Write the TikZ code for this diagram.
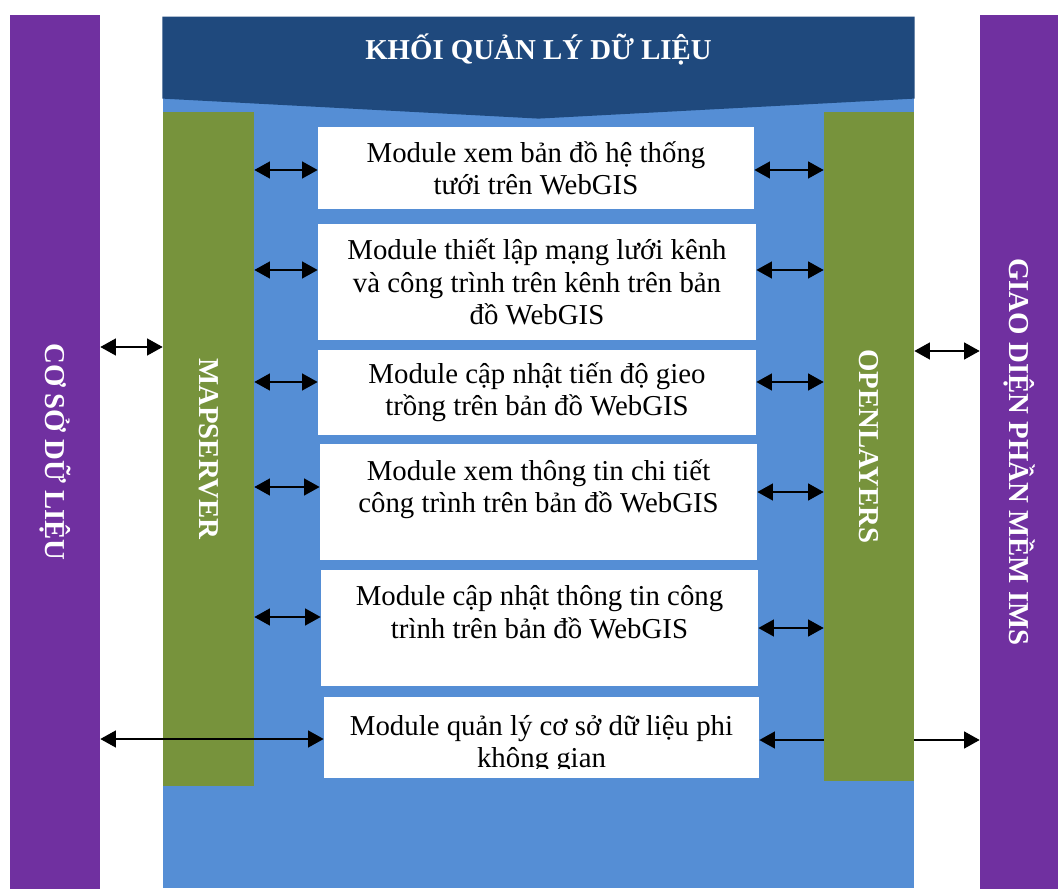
\documentclass[tikz,border=0pt]{standalone}
\usepackage{fontspec}
\setmainfont{Liberation Serif}
\usetikzlibrary{arrows.meta,calc}
\definecolor{imspurple}{HTML}{7030A0}
\definecolor{hdrblue}{HTML}{1F497D}
\definecolor{panelblue}{HTML}{558ED5}
\definecolor{barsgreen}{HTML}{77933C}
\tikzset{
  sidebar/.style={fill=imspurple, inner sep=0pt},
  greenbar/.style={fill=barsgreen, inner sep=0pt},
  modbox/.style={fill=white, inner sep=0pt, align=center, font=\fontsize{20.5}{23}\selectfont},
  modtext/.style={inner sep=0pt, align=center, font=\fontsize{20.5}{23}\selectfont},
  bartext/.style={rotate=-90, text=white, inner sep=0pt, font=\fontsize{20.5}{24}\selectfont\bfseries},
  dblarrow/.style={{Triangle[length=3.9mm,width=4.2mm]}-{Triangle[length=3.9mm,width=4.2mm]}, line width=1.4pt},
  onearrow/.style={-{Triangle[length=3.9mm,width=4.2mm]}, line width=1.4pt}
}

\begin{document}
\begin{tikzpicture}[x=0.025cm, y=-0.025cm]
\useasboundingbox[fill=white] (0,0) rectangle (1058,891);

% outer columns
\node[sidebar, minimum width=2.25cm, minimum height=21.85cm] (csdl) at (55,452) {};
\node[bartext] (csdltxt) at (csdl.center) {CƠ SỞ DỮ LIỆU};
\node[sidebar, minimum width=1.95cm, minimum height=21.85cm] (gui) at (1019,452) {};
\node[bartext] (guitxt) at (gui.center) {GIAO DIỆN PHẦN MỀM IMS};

% data management block
\node[fill=panelblue, inner sep=0pt, minimum width=18.79cm, minimum height=21.775cm] (main) at (538.5,452.5) {};
\fill[hdrblue] (main.north west) -- (main.north east) -- ($(main.north east)+(0,82)$)
  -- ($(main.north)+(0,102)$) -- ($(main.north west)+(0,82)$) -- cycle;
\node[bartext, rotate=90] (hdr) at ($(main.north)+(0,33)$) {KHỐI QUẢN LÝ DỮ LIỆU};

\node[greenbar, minimum width=2.275cm, minimum height=16.85cm] (ms) at (208.5,449) {};
\node[bartext] (mstxt) at (ms.center) {MAPSERVER};
\node[greenbar, minimum width=2.25cm, minimum height=16.725cm] (ol) at (869,446.5) {};
\node[bartext] (oltxt) at (ol.center) {OPENLAYERS};

% modules
\node[modbox, minimum width=10.9cm, minimum height=2.05cm] (m1) at (536,168) {Module xem bản đồ hệ thống\\tưới trên WebGIS};
\node[modbox, minimum width=10.95cm, minimum height=2.9cm] (m2) at (537,282) {Module thiết lập mạng lưới kênh\\và công trình trên kênh trên bản\\đồ WebGIS};
\node[modbox, minimum width=10.95cm, minimum height=2.125cm] (m3) at (537,392.5) {Module cập nhật tiến độ gieo\\trồng trên bản đồ WebGIS};
\node[modbox, minimum width=10.925cm, minimum height=2.9cm] (m4) at (538.5,502) {Module xem thông tin chi tiết\\công trình trên bản đồ WebGIS\\~};
\node[modbox, minimum width=10.925cm, minimum height=2.9cm] (m5) at (539.5,628) {Module cập nhật thông tin công\\trình trên bản đồ WebGIS\\~};
\node[modbox, minimum width=10.875cm, minimum height=2.025cm] (m6) at (541.5,737.5) {};
\begin{scope}
  \clip (m6.north west) rectangle (m6.east |- 0,768);
  \node[modtext, anchor=north] (m6txt) at (541.5,715) {Module quản lý cơ sở dữ liệu phi\\không gian};
\end{scope}

% links MapServer - modules
\draw[dblarrow] (ms.east |- 0,170) -- (m1.west |- 0,170);
\draw[dblarrow] (ms.east |- 0,270) -- (m2.west |- 0,270);
\draw[dblarrow] (ms.east |- 0,382) -- (m3.west |- 0,382);
\draw[dblarrow] (ms.east |- 0,487) -- (m4.west |- 0,487);
\draw[dblarrow] (ms.east |- 0,617) -- (m5.west |- 0,617);
% links modules - OpenLayers
\draw[dblarrow] (m1.east |- 0,170) -- (ol.west |- 0,170);
\draw[dblarrow] (m2.east |- 0,270) -- (ol.west |- 0,270);
\draw[dblarrow] (m3.east |- 0,382) -- (ol.west |- 0,382);
\draw[dblarrow] (m4.east |- 0,492) -- (ol.west |- 0,492);
\draw[dblarrow] (m5.east |- 0,628) -- (ol.west |- 0,628);

% outer links
\draw[dblarrow] (csdl.east |- 0,347) -- (ms.west |- 0,347);
\draw[dblarrow] (ol.east |- 0,351) -- (gui.west |- 0,351);
\draw[dblarrow] (csdl.east |- 0,739) -- (m6.west |- 0,739);
\draw[onearrow] (ol.west |- 0,740) -- (m6.east |- 0,740);
\draw[onearrow] (ol.east |- 0,740) -- (gui.west |- 0,740);
\end{tikzpicture}
\end{document}
